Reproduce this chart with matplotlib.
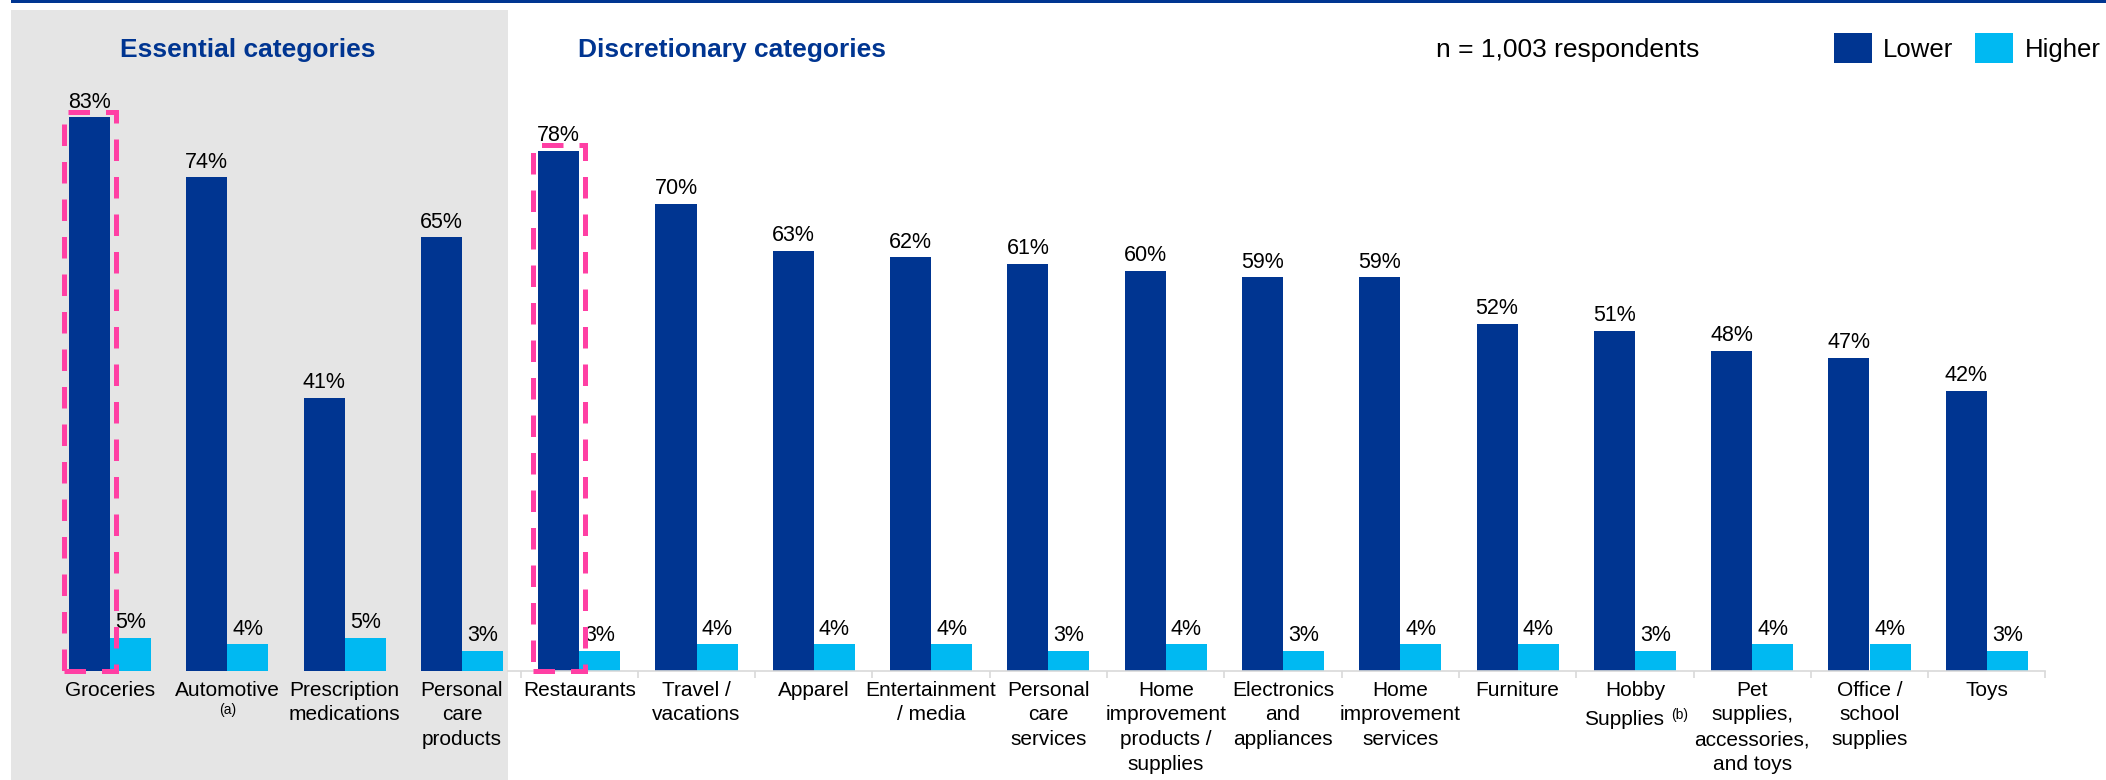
"""
 Spending intentions by category: share of respondents planning lower / higher spend
"""
import matplotlib
matplotlib.use("Agg")
import numpy as np
import matplotlib.pyplot as plt
from matplotlib.patches import Rectangle

plt.rcParams['font.family'] = ['Liberation Sans', 'DejaVu Sans']

DARK = '#003591'
LIGHT = '#00B9F2'
PINK = '#FF3FA4'
PANEL = '#E5E5E5'
AXIS_GREY = '#D9D9D9'

categories = ["Groceries", "Automotive", "Prescription\nmedications",
              "Personal\ncare\nproducts", "Restaurants", "Travel /\nvacations",
              "Apparel", "Entertainment\n/ media", "Personal\ncare\nservices",
              "Home\nimprovement\nproducts /\nsupplies", "Electronics\nand\nappliances",
              "Home\nimprovement\nservices", "Furniture", "Hobby",
              "Pet\nsupplies,\naccessories,\nand toys", "Office /\nschool\nsupplies", "Toys"]
lower = [83, 74, 41, 65, 78, 70, 63, 62, 61, 60, 59, 59, 52, 51, 48, 47, 42]
higher = [5, 4, 5, 3, 3, 4, 4, 4, 3, 4, 3, 4, 4, 3, 4, 4, 3]
n_essential = 4
highlighted = [0, 4]

W, H = 2106, 780
fig = plt.figure(figsize=(W / 100, H / 100), dpi=100)

# grey backdrop behind the essential group + thin rule at the very top
fig.patches.append(Rectangle((11 / W, 0), (508 - 11) / W, (H - 10) / H,
                             transform=fig.transFigure, facecolor=PANEL,
                             edgecolor='none', zorder=-1))
fig.patches.append(Rectangle((11 / W, 1 - 3 / H), 1, 3 / H,
                             transform=fig.transFigure, facecolor=DARK,
                             edgecolor='none', zorder=-1))

step = 117.3
x0 = 110
ax = fig.add_axes([0, 109 / H, 1, 671 / H])
ax.patch.set_visible(False)

x = np.arange(len(categories))
bw = 0.35
b1 = ax.bar(x - bw / 2, lower, bw, color=DARK, label='Lower', zorder=2)
b2 = ax.bar(x + bw / 2, higher, bw, color=LIGHT, label='Higher', zorder=2)

for xi, v in zip(x, lower):
    ax.annotate(f"{v}%", (xi - bw / 2, v), xytext=(0, 7), textcoords='offset points',
                ha='center', va='baseline', fontsize=15.5)
for xi, v in zip(x, higher):
    ax.annotate(f"{v}%", (xi + bw / 2, v), xytext=(0, 7), textcoords='offset points',
                ha='center', va='baseline', fontsize=15.5)

# dashed call-out boxes around the lead bar of each group
for i in highlighted:
    ax.add_patch(Rectangle((i - bw - 0.04, 0), bw + 0.09, lower[i] + 0.8,
                           fill=False, edgecolor=PINK, linewidth=3.6,
                           linestyle=(0, (4.3, 3.2)), zorder=3, clip_on=False))

ax.set_xlim(-x0 / step, (W - x0) / step)
ax.set_ylim(0, 671 / 6.67)

ax.set_xticks(x)
ax.set_xticklabels(categories, fontsize=15, linespacing=1.38)
ax.tick_params(axis='x', which='major', length=0, pad=7)
ax.set_xticks(np.arange(n_essential - 0.5, len(categories)), minor=True)
ax.tick_params(axis='x', which='minor', length=5, width=1.2, color=AXIS_GREY)
ax.set_yticks([])
for s in ['top', 'right', 'left']:
    ax.spines[s].set_visible(False)
ax.spines['bottom'].set_color(AXIS_GREY)
ax.spines['bottom'].set_linewidth(1.2)
ax.spines['bottom'].set_bounds(n_essential - 0.61, len(categories) - 0.5)

# footnote markers
xt = ax.get_xaxis_transform()
ax.annotate("(a)", (1, 0), xycoords=xt, xytext=(0, -28), textcoords='offset points',
            ha='center', va='center', fontsize=10)
hobby = categories.index("Hobby")
ax.annotate("Supplies", (hobby, 0), xycoords=xt, xytext=(-8, -38.9),
            textcoords='offset points', ha='center', va='baseline', fontsize=15)
ax.annotate("(b)", (hobby, 0), xycoords=xt, xytext=(26, -31.7), textcoords='offset points',
            ha='left', va='center', fontsize=10)

fig.text(120 / W, 1 - 57 / H, "Essential categories", fontsize=19, fontweight='bold',
         color=DARK, va='baseline', ha='left')
fig.text(578 / W, 1 - 57 / H, "Discretionary categories", fontsize=19, fontweight='bold',
         color=DARK, va='baseline', ha='left')
fig.text(1436 / W, 1 - 57 / H, "n = 1,003 respondents", fontsize=19,
         va='baseline', ha='left')

fig.legend(handles=[b1, b2], loc='center left', bbox_to_anchor=(1834 / W, 1 - 48 / H),
           ncol=2, frameon=False, fontsize=18.5, borderpad=0, borderaxespad=0,
           handlelength=1.48, handleheight=1.36, handletextpad=0.43, columnspacing=0.86)

fig.savefig("out.png", dpi=100)
